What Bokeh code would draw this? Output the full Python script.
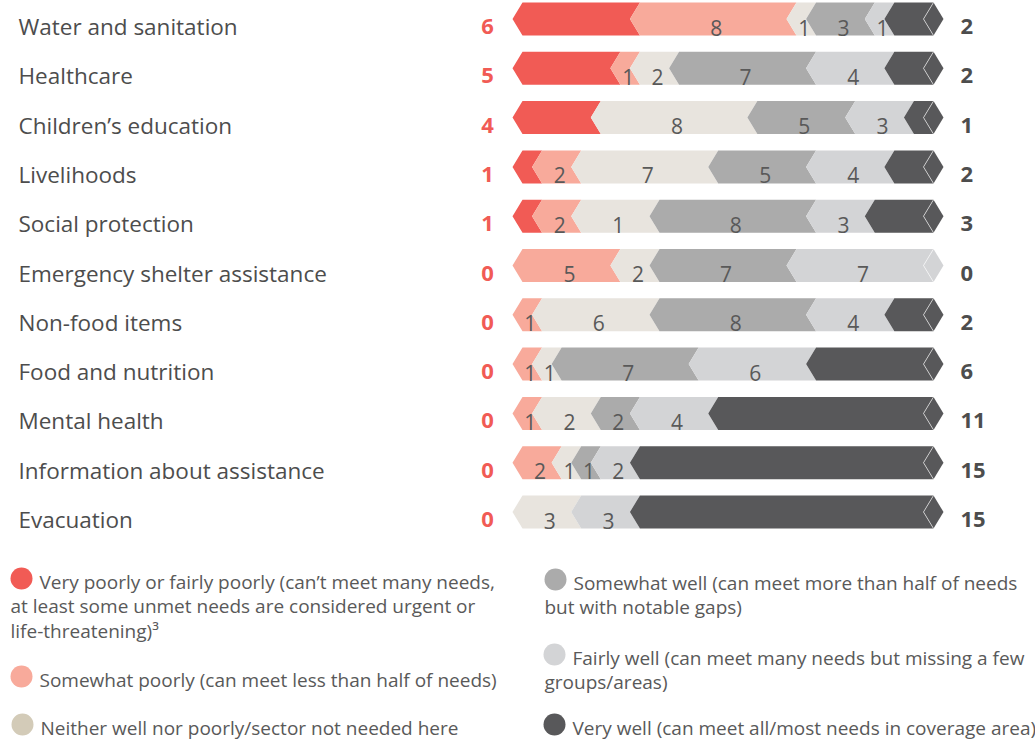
from bokeh.plotting import figure
from bokeh.models import Range1d
from bokeh.core.properties import value
from bokeh.embed import file_html
from bokeh.resources import INLINE

# ---------------- data ----------------
categories = ["Water and sanitation", "Healthcare", "Children’s education", "Livelihoods",
              "Social protection", "Emergency shelter assistance", "Non-food items",
              "Food and nutrition", "Mental health", "Information about assistance", "Evacuation"]
very_poorly     = [6, 5, 4, 1, 1, 0, 0, 0, 0, 0, 0]
somewhat_poorly = [8, 1, 0, 2, 2, 5, 1, 1, 1, 2, 0]
neither         = [1, 2, 8, 7, 1, 2, 6, 1, 2, 1, 3]
not_needed      = [0, 0, 0, 0, 3, 0, 0, 0, 1, 0, 0]
somewhat_well   = [3, 7, 5, 5, 8, 7, 8, 7, 2, 1, 0]
fairly_well     = [1, 4, 3, 4, 3, 7, 4, 6, 4, 2, 3]
very_well       = [2, 2, 1, 2, 3, 0, 2, 6, 11, 15, 15]

series_names = ["Very poorly or fairly poorly", "Somewhat poorly", "Neither well nor poorly/sector not needed here",
                "Somewhat well", "Fairly well", "Very well"]
bar_colors    = ["#F15B55", "#F8AA9B", "#E8E4DE", "#ABABAB", "#D3D4D6", "#58585A"]
legend_colors = ["#F15B55", "#F8AA9B", "#D3CBB8", "#ABABAB", "#D3D4D6", "#58585A"]
legend_lines = [
    ["Very poorly or fairly poorly (can’t meet many needs,",
     "at least some unmet needs are considered urgent or",
     "life-threatening)³"],
    ["Somewhat poorly (can meet less than half of needs)"],
    ["Neither well nor poorly/sector not needed here"],
    ["Somewhat well (can meet more than half of needs",
     "but with notable gaps)"],
    ["Fairly well (can meet many needs but missing a few",
     "groups/areas)"],
    ["Very well (can meet all/most needs in coverage area)"],
]

# ---------------- layout ----------------
W, H = 1035, 740
FONT = value("Open Sans")
BAR_X0, BAR_X1 = 522.0, 933.0
TIP = 10.0
ROW0, ROW_STEP = 2.0, 49.3
BAR_H = 33.0

p = figure(width=W, height=H, x_range=Range1d(0, W), y_range=Range1d(H, 0),
           output_backend="svg", toolbar_location=None, min_border=0,
           x_axis_location=None, y_axis_location=None)
p.grid.visible = False
p.outline_line_color = None
p.background_fill_color = "white"
p.border_fill_color = "white"

xs, ys, cols = [], [], []
lab_x, lab_y, lab_t = [], [], []
cap_xs, cap_ys, cap_c = [], [], []
line_xs, line_ys = [], []
cat_y = []

for i, cat in enumerate(categories):
    widths = [very_poorly[i], somewhat_poorly[i], neither[i] + not_needed[i],
              somewhat_well[i], fairly_well[i], very_well[i]]
    labels = [None, somewhat_poorly[i], neither[i], somewhat_well[i], fairly_well[i], None]
    total = float(sum(widths))
    top = ROW0 + ROW_STEP * i
    bot = top + BAR_H
    mid = (top + bot) / 2
    ty = top + 24
    cat_y.append(ty)
    cum = 0.0
    last_color = None
    for k, wv in enumerate(widths):
        if wv <= 0:
            continue
        x0 = BAR_X0 + (BAR_X1 - BAR_X0) * cum / total
        cum += wv
        x1 = BAR_X0 + (BAR_X1 - BAR_X0) * cum / total
        xs.append([x0 - TIP, x0, x1, x1 - TIP, x1, x0])
        ys.append([mid, top, top, mid, bot, bot])
        cols.append(bar_colors[k])
        last_color = bar_colors[k]
        if labels[k]:
            lab_x.append((x0 + x1) / 2 - 2)
            lab_y.append(ty + 1)
            lab_t.append(str(labels[k]))
    # end cap
    cap_xs.append([BAR_X1, BAR_X1 + TIP, BAR_X1, BAR_X1 - TIP])
    cap_ys.append([top, mid, bot, mid])
    cap_c.append(last_color)
    line_xs.append([BAR_X1, BAR_X1 - TIP, BAR_X1])
    line_ys.append([top, mid, bot])

p.patches(xs, ys, fill_color=cols, line_color=None)
p.patches(cap_xs, cap_ys, fill_color=cap_c, line_color=None)
p.multi_line(line_xs, line_ys, line_color="white", line_alpha=0.6, line_width=1)

p.text(lab_x, lab_y, text=lab_t, text_font=FONT, text_font_size="21px",
       text_color="#595959", text_align="center", text_baseline="middle")

# category labels
p.text([18] * len(categories), cat_y, text=categories, text_font=FONT, text_font_size="22.5px",
       text_color="#4D4D4D", text_align="left", text_baseline="middle")
# left (very poorly) and right (very well) totals
p.text([487] * len(categories), cat_y, text=[str(v) for v in very_poorly], text_font=FONT,
       text_font_size="22px", text_font_style="bold", text_color="#F15B55",
       text_align="center", text_baseline="middle")
p.text([960] * len(categories), cat_y, text=[str(v) for v in very_well], text_font=FONT,
       text_font_size="22px", text_font_style="bold", text_color="#4D4D4D",
       text_align="left", text_baseline="middle")

# legend
leg_pos = [(21, 578, 39, 10), (21, 676, 39, 10), (22, 724, 40, 10),
           (555, 579, 573, 544), (554, 654, 572, 544), (554, 724, 572, 544)]
LINE_STEP = 24.5
cx, cy, tx, ty_, tt = [], [], [], [], []
for k, (ccx, ccy, tx0, tx1) in enumerate(leg_pos):
    cx.append(ccx); cy.append(ccy)
    for j, line in enumerate(legend_lines[k]):
        tx.append(tx0 if j == 0 else tx1)
        ty_.append(ccy + 3 + LINE_STEP * j)
        tt.append(line)
p.scatter(cx, cy, size=22, fill_color=legend_colors, line_color=None)
p.text(tx, ty_, text=tt, text_font=FONT, text_font_size="19px", text_color="#595959",
       text_align="left", text_baseline="middle")

open("out.html", "w").write(file_html(p, INLINE))
